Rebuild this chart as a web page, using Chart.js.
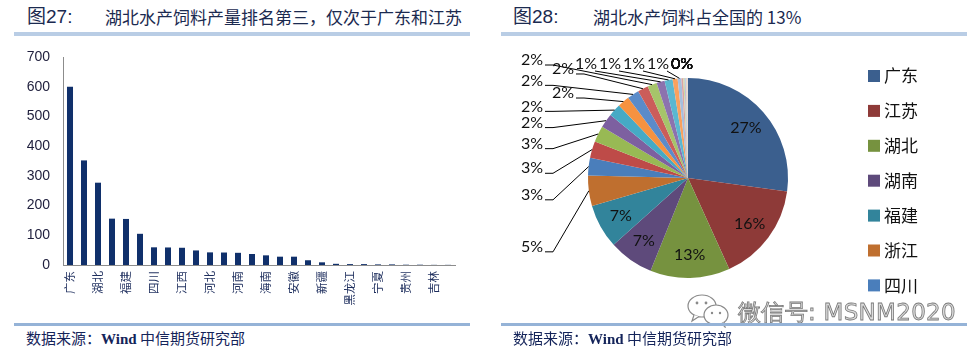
<!DOCTYPE html>
<html><head><meta charset="utf-8">
<script src="https://cdn.jsdelivr.net/npm/chart.js@4.4.1/dist/chart.umd.min.js"></script>
<style>
html,body{margin:0;padding:0;background:#fff;}
body{width:973px;height:355px;overflow:hidden;position:relative;font-family:"Noto Sans CJK SC",sans-serif;}
.abs{position:absolute;white-space:nowrap;}
.fig{font-family:"Liberation Sans","Noto Sans CJK SC",sans-serif;font-size:19px;color:#1B2A50;line-height:20px;}
.ttl{font-family:"Noto Sans CJK SC",sans-serif;font-size:17px;color:#1B2A50;line-height:20px;}
.rule{position:absolute;height:4px;}
.src{font-family:"Noto Sans CJK SC",sans-serif;font-size:15px;color:#14245A;line-height:18px;}
.src b{font-family:"Liberation Serif",serif;font-weight:bold;}
.wm{font-family:"DejaVu Sans",sans-serif;font-size:23px;color:#dcdcdc;-webkit-text-stroke:0.8px #7a7a7a;line-height:26px;letter-spacing:0.3px;}
</style></head>
<body>
<div class="abs fig" style="left:27px;top:7px;">图27:</div>
<div class="abs ttl" style="left:105px;top:7px;">湖北水产饲料产量排名第三，仅次于广东和江苏</div>
<div class="rule" style="left:14px;top:32px;width:456px;background:#B9CDE5;"></div>

<div class="abs fig" style="left:513px;top:7px;">图28:</div>
<div class="abs ttl" style="left:593px;top:7px;">湖北水产饲料占全国的 13%</div>
<div class="rule" style="left:501px;top:32px;width:466px;background:#B9CDE5;"></div>

<canvas id="bar" class="abs" style="left:0;top:40px;" width="480" height="280"></canvas>
<canvas id="pie" class="abs" style="left:500px;top:40px;" width="468" height="280"></canvas>

<svg class="abs" style="left:686px;top:294px;" width="48" height="34" viewBox="0 0 48 34">
  <ellipse cx="16" cy="12" rx="14" ry="11" fill="#fff" stroke="#8a8a8a" stroke-width="1.2"/>
  <path d="M8 21 L6 27 L13 22.5" fill="#fff" stroke="#8a8a8a" stroke-width="1.2"/>
  <ellipse cx="30" cy="21" rx="12" ry="10" fill="#fff" stroke="#8a8a8a" stroke-width="1.2"/>
  <path d="M36 29.5 L39 33 L38 28" fill="#fff" stroke="#8a8a8a" stroke-width="1.2"/>
  <circle cx="11" cy="9" r="1.4" fill="#8a8a8a"/><circle cx="20" cy="9" r="1.4" fill="#8a8a8a"/>
  <circle cx="26" cy="19" r="1.2" fill="#8a8a8a"/><circle cx="34" cy="19" r="1.2" fill="#8a8a8a"/>
</svg>
<div class="abs wm" style="left:738px;top:299px;">微信号: MSNM2020</div>

<div class="rule" style="left:14px;top:323px;width:456px;height:3px;background:#95B3D7;"></div>
<div class="rule" style="left:501px;top:323px;width:466px;height:3px;background:#95B3D7;"></div>
<div class="abs src" style="left:26px;top:329px;">数据来源：<b>Wind</b> 中信期货研究部</div>
<div class="abs src" style="left:513px;top:329px;">数据来源：<b>Wind</b> 中信期货研究部</div>

<script>
// ---- data ----
const provinces = ['广东','江苏','湖北','湖南','福建','浙江','四川','广西','江西','山东','河北','辽宁','河南','天津','海南','重庆','安徽','云南','新疆','上海','黑龙江','陕西','宁夏','甘肃','贵州','内蒙古','吉林','山西'];
const feedOutput = [600,352,277,156,155,105,59.5,59,58,49,42.5,42,41,37,32.5,28,28,16,9,4,3,3,2,2,1,1,0.5,0.5];
const yTickValues = [0,100,200,300,400,500,600,700];
const pieShare = [27.0,16.0,12.8,7.2,7.1,4.9,2.8,2.7,2.6,2.3,2.0,1.9,1.9,1.7,1.5,1.3,1.3,0.8,0.6,0.3,0.2,0.15,0.1,0.1,0.05,0.05,0.05,0.05];

// ---- styles ----
const pieColors = ['#3B5F8E','#8E3A38','#76923F','#5E4A7B','#32849B','#BF6F2F',
  '#4A7EBB','#BE4B48','#98B954','#7D60A0','#46AAC5','#F69240',
  '#5B8BC9','#CB5D5A','#A6C46A','#8C72AE','#5BB7D0','#F9A15E',
  '#A5BEDE','#DCA3A2','#C9DBA6','#BBADD0','#A0D3E1','#FBC599','#B9CBE5','#E5B9B8','#D7E4BD','#CCC1DA'];

// ---- bar chart ----
new Chart(document.getElementById('bar'), {
  type: 'bar',
  data: { labels: provinces, datasets: [{ data: feedOutput, backgroundColor: '#10306B', barPercentage: 0.43, categoryPercentage: 1 }] },
  options: {
    responsive: false, animation: false, events: [],
    layout: { padding: { top: 17, right: 25, left: 0, bottom: 0 } },
    plugins: { legend: { display: false }, tooltip: { enabled: false } },
    scales: {
      x: {
        grid: { display: false, drawTicks: false },
        border: { display: true, color: '#8C8C8C', width: 1 },
        ticks: { autoSkip: false, minRotation: 90, maxRotation: 90, padding: 6,
          font: { family: '"Noto Sans CJK SC"', size: 11.5 }, color: '#1F2F5E',
          callback: (v, i) => (i % 2 === 0 ? provinces[i] : '') },
        afterFit: s => { s.height = 55; s.paddingLeft = 0; s.paddingRight = 0; }
      },
      y: {
        min: 0, max: 700,
        afterBuildTicks: s => { s.ticks = yTickValues.map(v => ({ value: v })); },
        grid: { display: false, drawTicks: false },
        border: { display: true, color: '#8C8C8C', width: 1 },
        ticks: { padding: 13, font: { family: '"Liberation Sans"', size: 14 }, color: '#1E1E3C' },
        afterFit: s => { s.width = 63; s.paddingTop = 0; s.paddingBottom = 0; }
      }
    }
  }
});

// ---- pie chart ----
const pieExtras = {
  id: 'pieExtras',
  afterDraw(chart) {
    const ctx = chart.ctx;
    const meta = chart.getDatasetMeta(0);
    const data = chart.data.datasets[0].data;
    const total = data.reduce((a, b) => a + b, 0);
    const arcs = meta.data;
    const cx = arcs[0].x, cy = arcs[0].y, R = arcs[0].outerRadius;
    const items = arcs.map((a, i) => {
      const mid = (a.startAngle + a.endAngle) / 2;
      const share = data[i] / total * 100;
      return { i, mid, share, pct: Math.round(share), deg: (mid + Math.PI / 2) * 180 / Math.PI,
        ax: cx + R * Math.cos(mid), ay: cy + R * Math.sin(mid) };
    });
    ctx.save();
    ctx.font = '16px Lato';
    ctx.fillStyle = '#111';
    ctx.textAlign = 'center';
    ctx.textBaseline = 'middle';
    // inside labels
    items.filter(it => it.share >= 6).forEach(it => {
      ctx.fillText(it.pct + '%', cx + 0.77 * R * Math.cos(it.mid), cy + 0.77 * R * Math.sin(it.mid));
    });
    const outside = items.filter(it => it.share < 6);
    const left = outside.filter(it => it.deg < 342);
    const top = outside.filter(it => it.deg >= 342);
    const W = 22, H = 14;
    // top row, stacked leftwards from the right end
    const topY = cy - R - 14;
    let prevX = null;
    for (let k = top.length - 1; k >= 0; k--) {
      const it = top[k];
      let x;
      if (it.pct === 0) x = cx - 6;
      else x = Math.min(it.ax - 6, prevX === null ? Infinity : prevX - 24);
      it.lx = x; it.ly = topY; prevX = x;
    }
    // left group, spacing weighted by slice size
    const n = left.length;
    const yBottom = left[0].ay + 0.56 * R, yTop = cy - R - 18;
    const gaps = [];
    for (let j = 0; j < n - 1; j++) gaps.push(Math.pow((left[j].share + left[j + 1].share) / 2, 2));
    const scale = (yBottom - yTop) / gaps.reduce((a, b) => a + b, 0);
    left[0].ly = yBottom;
    for (let j = 1; j < n; j++) left[j].ly = left[j - 1].ly - gaps[j - 1] * scale;
    const colX = cx - R - 56;
    const cols = [colX, colX + 31, colX + 61];
    const placed = [];
    for (let j = n - 1; j >= 0; j--) {
      const it = left[j];
      let chosen = cols[0];
      for (const c of cols) {
        if (!placed.some(p => Math.abs(c - p.lx) < W && Math.abs(it.ly - p.ly) < H)) { chosen = c; break; }
      }
      it.lx = chosen; placed.push(it);
    }
    // leader lines
    ctx.strokeStyle = '#000';
    ctx.lineWidth = 1;
    left.forEach(it => {
      const sx = it.lx + W / 2 + 2, sy = it.ly + 5;
      ctx.beginPath();
      ctx.moveTo(sx, sy); ctx.lineTo(sx + 8, sy); ctx.lineTo(it.ax, it.ay);
      ctx.stroke();
    });
    top.forEach(it => {
      if (it.pct === 0) return;
      ctx.beginPath();
      ctx.moveTo(it.lx + W / 2 - 2, it.ly + 7); ctx.lineTo(it.ax, it.ay);
      ctx.stroke();
    });
    outside.forEach(it => ctx.fillText(it.pct + '%', it.lx, it.ly));
    // legend (clipped to the panel like the original)
    const lgX = chart.chartArea.right + 80;
    let y = chart.chartArea.top - 2;
    ctx.font = '17px "Noto Sans CJK SC"';
    ctx.textAlign = 'left';
    for (let i = 0; i < chart.data.labels.length; i++) {
      if (y + 10 > chart.height - 10) break;
      ctx.fillStyle = pieColors[i];
      ctx.fillRect(lgX, y - 6, 12, 12);
      ctx.fillStyle = '#111';
      ctx.fillText(chart.data.labels[i], lgX + 16, y);
      y += 34.9;
    }
    ctx.restore();
  }
};

new Chart(document.getElementById('pie'), {
  type: 'pie',
  data: { labels: provinces, datasets: [{ data: pieShare, backgroundColor: pieColors, borderWidth: 0 }] },
  options: {
    responsive: false, animation: false, events: [],
    layout: { padding: { left: 88, right: 180, top: 38, bottom: 42 } },
    plugins: { legend: { display: false }, tooltip: { enabled: false } }
  },
  plugins: [pieExtras]
});
</script>
</body></html>
